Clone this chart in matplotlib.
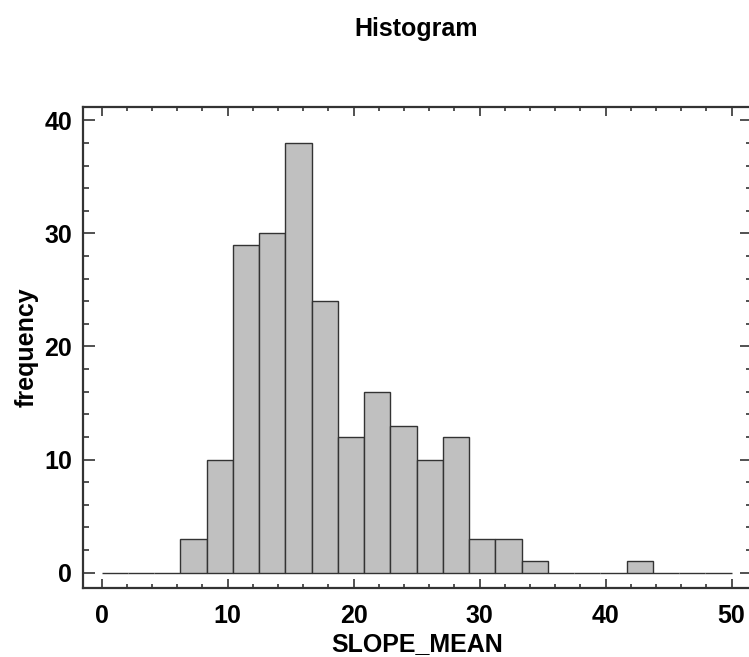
import numpy as np
import matplotlib
matplotlib.use("Agg")
import matplotlib.pyplot as plt
from matplotlib.ticker import MultipleLocator

# histogram of SLOPE_MEAN: 24 equal bins on [0, 50]
BIN_LO, BIN_HI, N_BINS = 0.0, 50.0, 24
counts = [0, 0, 0, 3, 10, 29, 30, 38, 24, 12, 16, 13,
          10, 12, 3, 3, 1, 0, 0, 0, 1, 0, 0, 0]
x_ticks = [0, 10, 20, 30, 40, 50]
y_ticks = [0, 10, 20, 30, 40]

INK = "#333333"
plt.rcParams.update({
    "font.family": ["Liberation Sans", "DejaVu Sans"],
    "font.weight": "bold",
    "font.size": 18,
})

fig = plt.figure(figsize=(7.49, 6.57), dpi=100)
# right spine sits just past the canvas edge, as in the reference
ax = fig.add_axes([0.1104, 0.1055, 0.8930, 0.7321])

edges = np.linspace(BIN_LO, BIN_HI, N_BINS + 1)
ax.bar(edges[:-1], counts, width=np.diff(edges), align="edge",
       color="#c0c0c0", edgecolor=INK, linewidth=1.0)

ax.set_xlim(-1.5, 51.58)
ax.set_ylim(-1.33, 41.2)
ax.set_xticks(x_ticks)
ax.set_yticks(y_ticks)
ax.xaxis.set_minor_locator(MultipleLocator(2))
ax.yaxis.set_minor_locator(MultipleLocator(2))
ax.tick_params(axis="both", which="both", direction="in", color=INK,
               width=1.2, top=True, right=True)
ax.tick_params(axis="x", which="major", length=6.5, pad=11.5)
ax.tick_params(axis="x", which="minor", length=3.2)
ax.tick_params(axis="y", which="major", length=8.5, pad=7.5)
ax.tick_params(axis="y", which="minor", length=4.5)
for sp in ax.spines.values():
    sp.set_color(INK)
    sp.set_linewidth(1.6)

ax.set_xlabel("SLOPE_MEAN", fontsize=18, fontweight="bold", labelpad=3)
ax.set_ylabel("frequency", fontsize=18, fontweight="bold", labelpad=4)
fig.text(0.556, 0.945, "Histogram", ha="center", va="baseline",
         fontsize=18, fontweight="bold")

fig.savefig("out.png", dpi=100)
